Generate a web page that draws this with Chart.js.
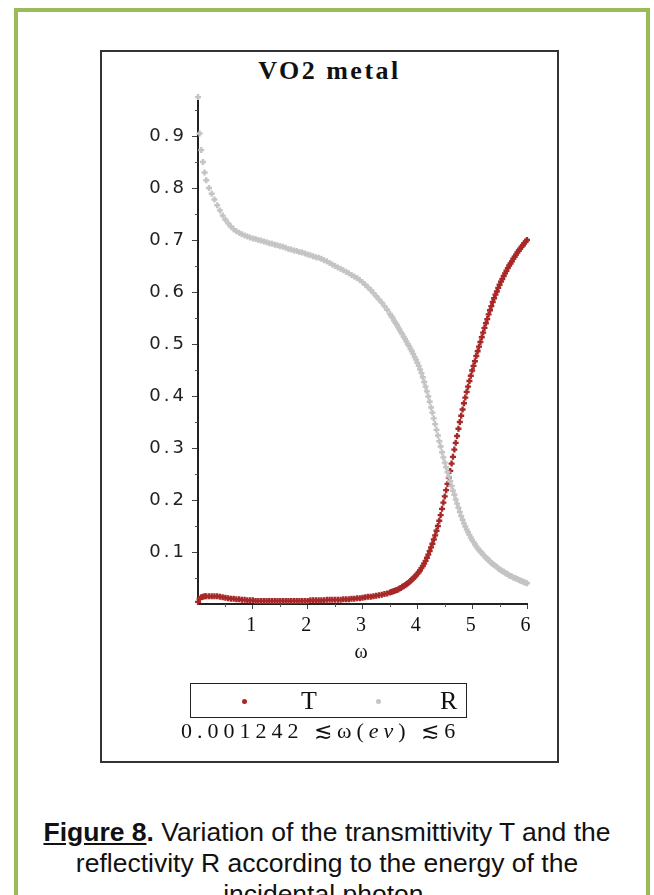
<!DOCTYPE html>
<html>
<head>
<meta charset="utf-8">
<script src="https://cdn.jsdelivr.net/npm/chart.js@4.4.0/dist/chart.umd.min.js"></script>
<style>
  html, body { margin: 0; padding: 0; background: #fff; }
  body { width: 654px; height: 895px; overflow: hidden; position: relative; }
  #frame { position: absolute; left: 14px; top: 8px; width: 628px; height: 960px; border: 4px solid #9bbb59; }
  #plotbox { position: absolute; left: 100px; top: 50px; width: 455px; height: 709px; border: 2px solid #333; }
  #chartwrap { position: absolute; left: 100px; top: 50px; width: 459px; height: 713px; }
  #title { position: absolute; left: 100px; top: 56px; width: 459px; text-align: center;
    font: bold 26px "Liberation Serif", serif; letter-spacing: 2.5px; color: #111; }
  #legend { position: absolute; left: 190px; top: 683px; width: 275px; height: 33px; border: 1.5px solid #222; }
  .dot { position: absolute; top: 15px; width: 5px; height: 5px; border-radius: 50%; }
  .lab { position: absolute; top: 2px; font: 26px "Liberation Serif", serif; color: #111; }
  #range { position: absolute; left: 181px; top: 718px; font: 22px "Liberation Serif", serif; letter-spacing: 5px; color: #111; white-space: nowrap; }
  .cap { position: absolute; left: 0; width: 654px; text-align: center; font: 26.5px "Liberation Sans", Arial, sans-serif; color: #111; white-space: nowrap; }
  .fig { font-weight: bold; text-decoration: underline; }
</style>
</head>
<body>
<div id="frame"></div>
<div id="plotbox"></div>
<div id="title">VO2 metal</div>
<div id="chartwrap"><canvas id="chart" width="459" height="713"></canvas></div>
<div id="legend">
  <span class="dot" style="left:51px;background:#a82828"></span>
  <span class="lab" style="left:110px">T</span>
  <span class="dot" style="left:185px;background:#c4c4c4"></span>
  <span class="lab" style="left:249px">R</span>
</div>
<div id="range">0.001242 ≲ω(<i>ev</i>) ≲6</div>
<div class="cap" style="top:817px"><span class="fig">Figure 8</span><b>.</b> Variation of the transmittivity T and the</div>
<div class="cap" style="top:848px">reflectivity R according to the energy of the</div>
<div class="cap" style="top:879px">incidental photon.</div>

<script>
// photon energy (eV) sample points
const omega = [
  0.001242, 0.03, 0.06, 0.09, 0.12, 0.15, 0.2, 0.25,
  0.3, 0.35, 0.4, 0.45, 0.5, 0.55, 0.6, 0.65, 0.7, 0.75,
  0.8, 0.85, 0.9, 0.95, 1.0, 1.05, 1.1, 1.15, 1.2, 1.25,
  1.3, 1.35, 1.4, 1.45, 1.5, 1.55, 1.6, 1.65, 1.7, 1.75,
  1.8, 1.85, 1.9, 1.95, 2.0, 2.05, 2.1, 2.15, 2.2, 2.25,
  2.3, 2.35, 2.4, 2.45, 2.5, 2.55, 2.6, 2.65, 2.7, 2.75,
  2.8, 2.85, 2.9, 2.95, 3.0, 3.05, 3.1, 3.15, 3.2, 3.25,
  3.3, 3.35, 3.4, 3.45, 3.5,
  3.525, 3.55, 3.575, 3.6, 3.625, 3.65, 3.675, 3.7, 3.725, 3.75,
  3.775, 3.8, 3.825, 3.85, 3.875, 3.9, 3.925, 3.95, 3.975, 4.0,
  4.025, 4.05, 4.075, 4.1, 4.125, 4.15, 4.175, 4.2, 4.225, 4.25,
  4.275, 4.3, 4.325, 4.35, 4.375, 4.4, 4.425, 4.45, 4.475, 4.5,
  4.525, 4.55, 4.575, 4.6, 4.625, 4.65, 4.675, 4.7, 4.725, 4.75,
  4.775, 4.8, 4.825, 4.85, 4.875, 4.9, 4.925, 4.95, 4.975, 5.0,
  5.025, 5.05, 5.075, 5.1, 5.125, 5.15, 5.175, 5.2, 5.225, 5.25,
  5.275, 5.3, 5.325, 5.35, 5.375, 5.4, 5.425, 5.45, 5.475, 5.5,
  5.525, 5.55, 5.575, 5.6, 5.625, 5.65, 5.675, 5.7, 5.725, 5.75,
  5.775, 5.8, 5.825, 5.85, 5.875, 5.9, 5.925, 5.95, 5.975, 6.0
];

// transmittivity T
const transT = [
  0.004, 0.010, 0.013, 0.014, 0.015, 0.015, 0.015, 0.015,
  0.015, 0.015, 0.014, 0.013, 0.012, 0.011, 0.010, 0.010, 0.009, 0.009,
  0.008, 0.008, 0.007, 0.007, 0.007, 0.006, 0.006, 0.006, 0.006, 0.006,
  0.006, 0.006, 0.006, 0.006, 0.006, 0.006, 0.006, 0.006, 0.006, 0.006,
  0.006, 0.006, 0.006, 0.006, 0.006, 0.007, 0.007, 0.007, 0.007, 0.007,
  0.007, 0.008, 0.008, 0.008, 0.008, 0.008, 0.008, 0.009, 0.009, 0.009,
  0.010, 0.010, 0.011, 0.011, 0.012, 0.013, 0.014, 0.014, 0.015, 0.016,
  0.017, 0.018, 0.019, 0.020, 0.022,
  0.023, 0.024, 0.025, 0.026, 0.027, 0.028, 0.030, 0.031, 0.033, 0.034,
  0.036, 0.038, 0.040, 0.042, 0.044, 0.047, 0.049, 0.052, 0.055, 0.058,
  0.061, 0.065, 0.069, 0.073, 0.078, 0.083, 0.089, 0.095, 0.102, 0.109,
  0.116, 0.124, 0.132, 0.141, 0.150, 0.160, 0.171, 0.183, 0.195, 0.207,
  0.219, 0.231, 0.243, 0.256, 0.270, 0.283, 0.297, 0.310, 0.323, 0.337,
  0.350, 0.362, 0.374, 0.386, 0.397, 0.408, 0.418, 0.429, 0.439, 0.449,
  0.458, 0.467, 0.477, 0.486, 0.495, 0.504, 0.513, 0.522, 0.531, 0.540,
  0.548, 0.557, 0.565, 0.573, 0.581, 0.588, 0.595, 0.601, 0.608, 0.614,
  0.620, 0.625, 0.631, 0.636, 0.641, 0.646, 0.651, 0.655, 0.659, 0.664,
  0.668, 0.672, 0.676, 0.680, 0.683, 0.687, 0.690, 0.694, 0.697, 0.700
];

// reflectivity R
const reflR = [
  0.975, 0.905, 0.873, 0.850, 0.830, 0.815, 0.800, 0.789,
  0.778, 0.767, 0.757, 0.747, 0.739, 0.732, 0.726, 0.721, 0.717, 0.714,
  0.711, 0.709, 0.707, 0.705, 0.703, 0.702, 0.700, 0.699, 0.697, 0.696,
  0.694, 0.693, 0.691, 0.690, 0.688, 0.687, 0.685, 0.683, 0.682, 0.680,
  0.679, 0.677, 0.676, 0.674, 0.672, 0.671, 0.669, 0.667, 0.666, 0.664,
  0.661, 0.659, 0.656, 0.653, 0.650, 0.647, 0.645, 0.642, 0.639, 0.636,
  0.633, 0.630, 0.627, 0.623, 0.619, 0.614, 0.609, 0.604, 0.598, 0.592,
  0.586, 0.580, 0.573, 0.566, 0.558,
  0.554, 0.550, 0.545, 0.541, 0.537, 0.532, 0.528, 0.523, 0.519, 0.514,
  0.510, 0.505, 0.500, 0.496, 0.491, 0.486, 0.481, 0.475, 0.470, 0.464,
  0.458, 0.451, 0.444, 0.436, 0.427, 0.418, 0.409, 0.399, 0.389, 0.378,
  0.368, 0.357, 0.346, 0.335, 0.324, 0.313, 0.303, 0.292, 0.282, 0.272,
  0.263, 0.254, 0.245, 0.236, 0.227, 0.218, 0.210, 0.201, 0.193, 0.185,
  0.177, 0.169, 0.162, 0.155, 0.149, 0.143, 0.138, 0.133, 0.128, 0.123,
  0.119, 0.115, 0.111, 0.107, 0.104, 0.101, 0.098, 0.095, 0.092, 0.089,
  0.087, 0.084, 0.082, 0.079, 0.077, 0.075, 0.073, 0.071, 0.069, 0.067,
  0.065, 0.063, 0.062, 0.060, 0.058, 0.057, 0.055, 0.054, 0.053, 0.051,
  0.050, 0.049, 0.048, 0.046, 0.045, 0.044, 0.043, 0.042, 0.041, 0.040
];

const xTicks = [1, 2, 3, 4, 5, 6];
const xMinor = [0.5, 1.5, 2.5, 3.5, 4.5, 5.5];
const yTicks = [0.1, 0.2, 0.3, 0.4, 0.5, 0.6, 0.7, 0.8, 0.9];
const yMinor = [0.05, 0.15, 0.25, 0.35, 0.45, 0.55, 0.65, 0.75, 0.85, 0.95];

const toPoints = (ys) => omega.map((w, i) => ({ x: w, y: ys[i] }));

// Maple-style wide lettering on the canvas labels
const spacedText = {
  id: "spacedText",
  beforeUpdate(chart) { chart.ctx.letterSpacing = "3px"; },
  beforeDraw(chart) { chart.ctx.letterSpacing = "3px"; }
};

const minorTicks = {
  id: "minorTicks",
  afterDraw(chart) {
    const { ctx, scales: { x, y } } = chart;
    ctx.save();
    ctx.strokeStyle = "#555";
    ctx.lineWidth = 1;
    ctx.beginPath();
    for (const v of xMinor) {
      const px = Math.round(x.getPixelForValue(v)) + 0.5;
      ctx.moveTo(px, y.bottom);
      ctx.lineTo(px, y.bottom + 3);
    }
    for (const v of yMinor) {
      const py = Math.round(y.getPixelForValue(v)) + 0.5;
      ctx.moveTo(x.left, py);
      ctx.lineTo(x.left - 3, py);
    }
    ctx.stroke();
    ctx.restore();
  }
};

new Chart(document.getElementById("chart"), {
  type: "scatter",
  data: {
    datasets: [
      {
        label: "T",
        data: toPoints(transT),
        pointStyle: "cross",
        pointRadius: 3,
        borderWidth: 2.4,
        borderColor: "#a82828",
        backgroundColor: "#a82828",
        order: 2
      },
      {
        label: "R",
        data: toPoints(reflR),
        pointStyle: "cross",
        pointRadius: 3,
        borderWidth: 2.4,
        borderColor: "#c4c4c4",
        backgroundColor: "#c4c4c4",
        order: 1
      }
    ]
  },
  options: {
    responsive: false,
    animation: false,
    clip: false,
    layout: { padding: { left: 0, right: 32, top: 45, bottom: 94 } },
    plugins: { legend: { display: false }, tooltip: { enabled: false } },
    scales: {
      x: {
        type: "linear",
        min: 0,
        max: 6,
        afterBuildTicks: (s) => { s.ticks = xTicks.map((v) => ({ value: v })); },
        afterFit: (s) => { s.height = 65; },
        border: { display: true, color: "#222", width: 2 },
        grid: { drawOnChartArea: false, tickLength: 5, tickColor: "#444" },
        ticks: {
          padding: 5,
          color: "#111",
          font: { family: "Liberation Serif", size: 20 },
          callback: (v) => String(v)
        },
        title: {
          display: true,
          text: "ω",
          color: "#111",
          font: { family: "Liberation Serif", size: 20 }
        }
      },
      y: {
        type: "linear",
        min: 0,
        max: 0.979,
        afterBuildTicks: (s) => { s.ticks = yTicks.map((v) => ({ value: v })); },
        afterFit: (s) => { s.width = 98; },
        border: { display: true, color: "#222", width: 2 },
        grid: { drawOnChartArea: false, tickLength: 6, tickColor: "#444" },
        ticks: {
          padding: 5,
          color: "#222",
          font: { family: "DejaVu Sans", size: 18 },
          callback: (v) => Number(v).toFixed(1)
        }
      }
    }
  },
  plugins: [spacedText, minorTicks]
});
</script>
</body>
</html>
